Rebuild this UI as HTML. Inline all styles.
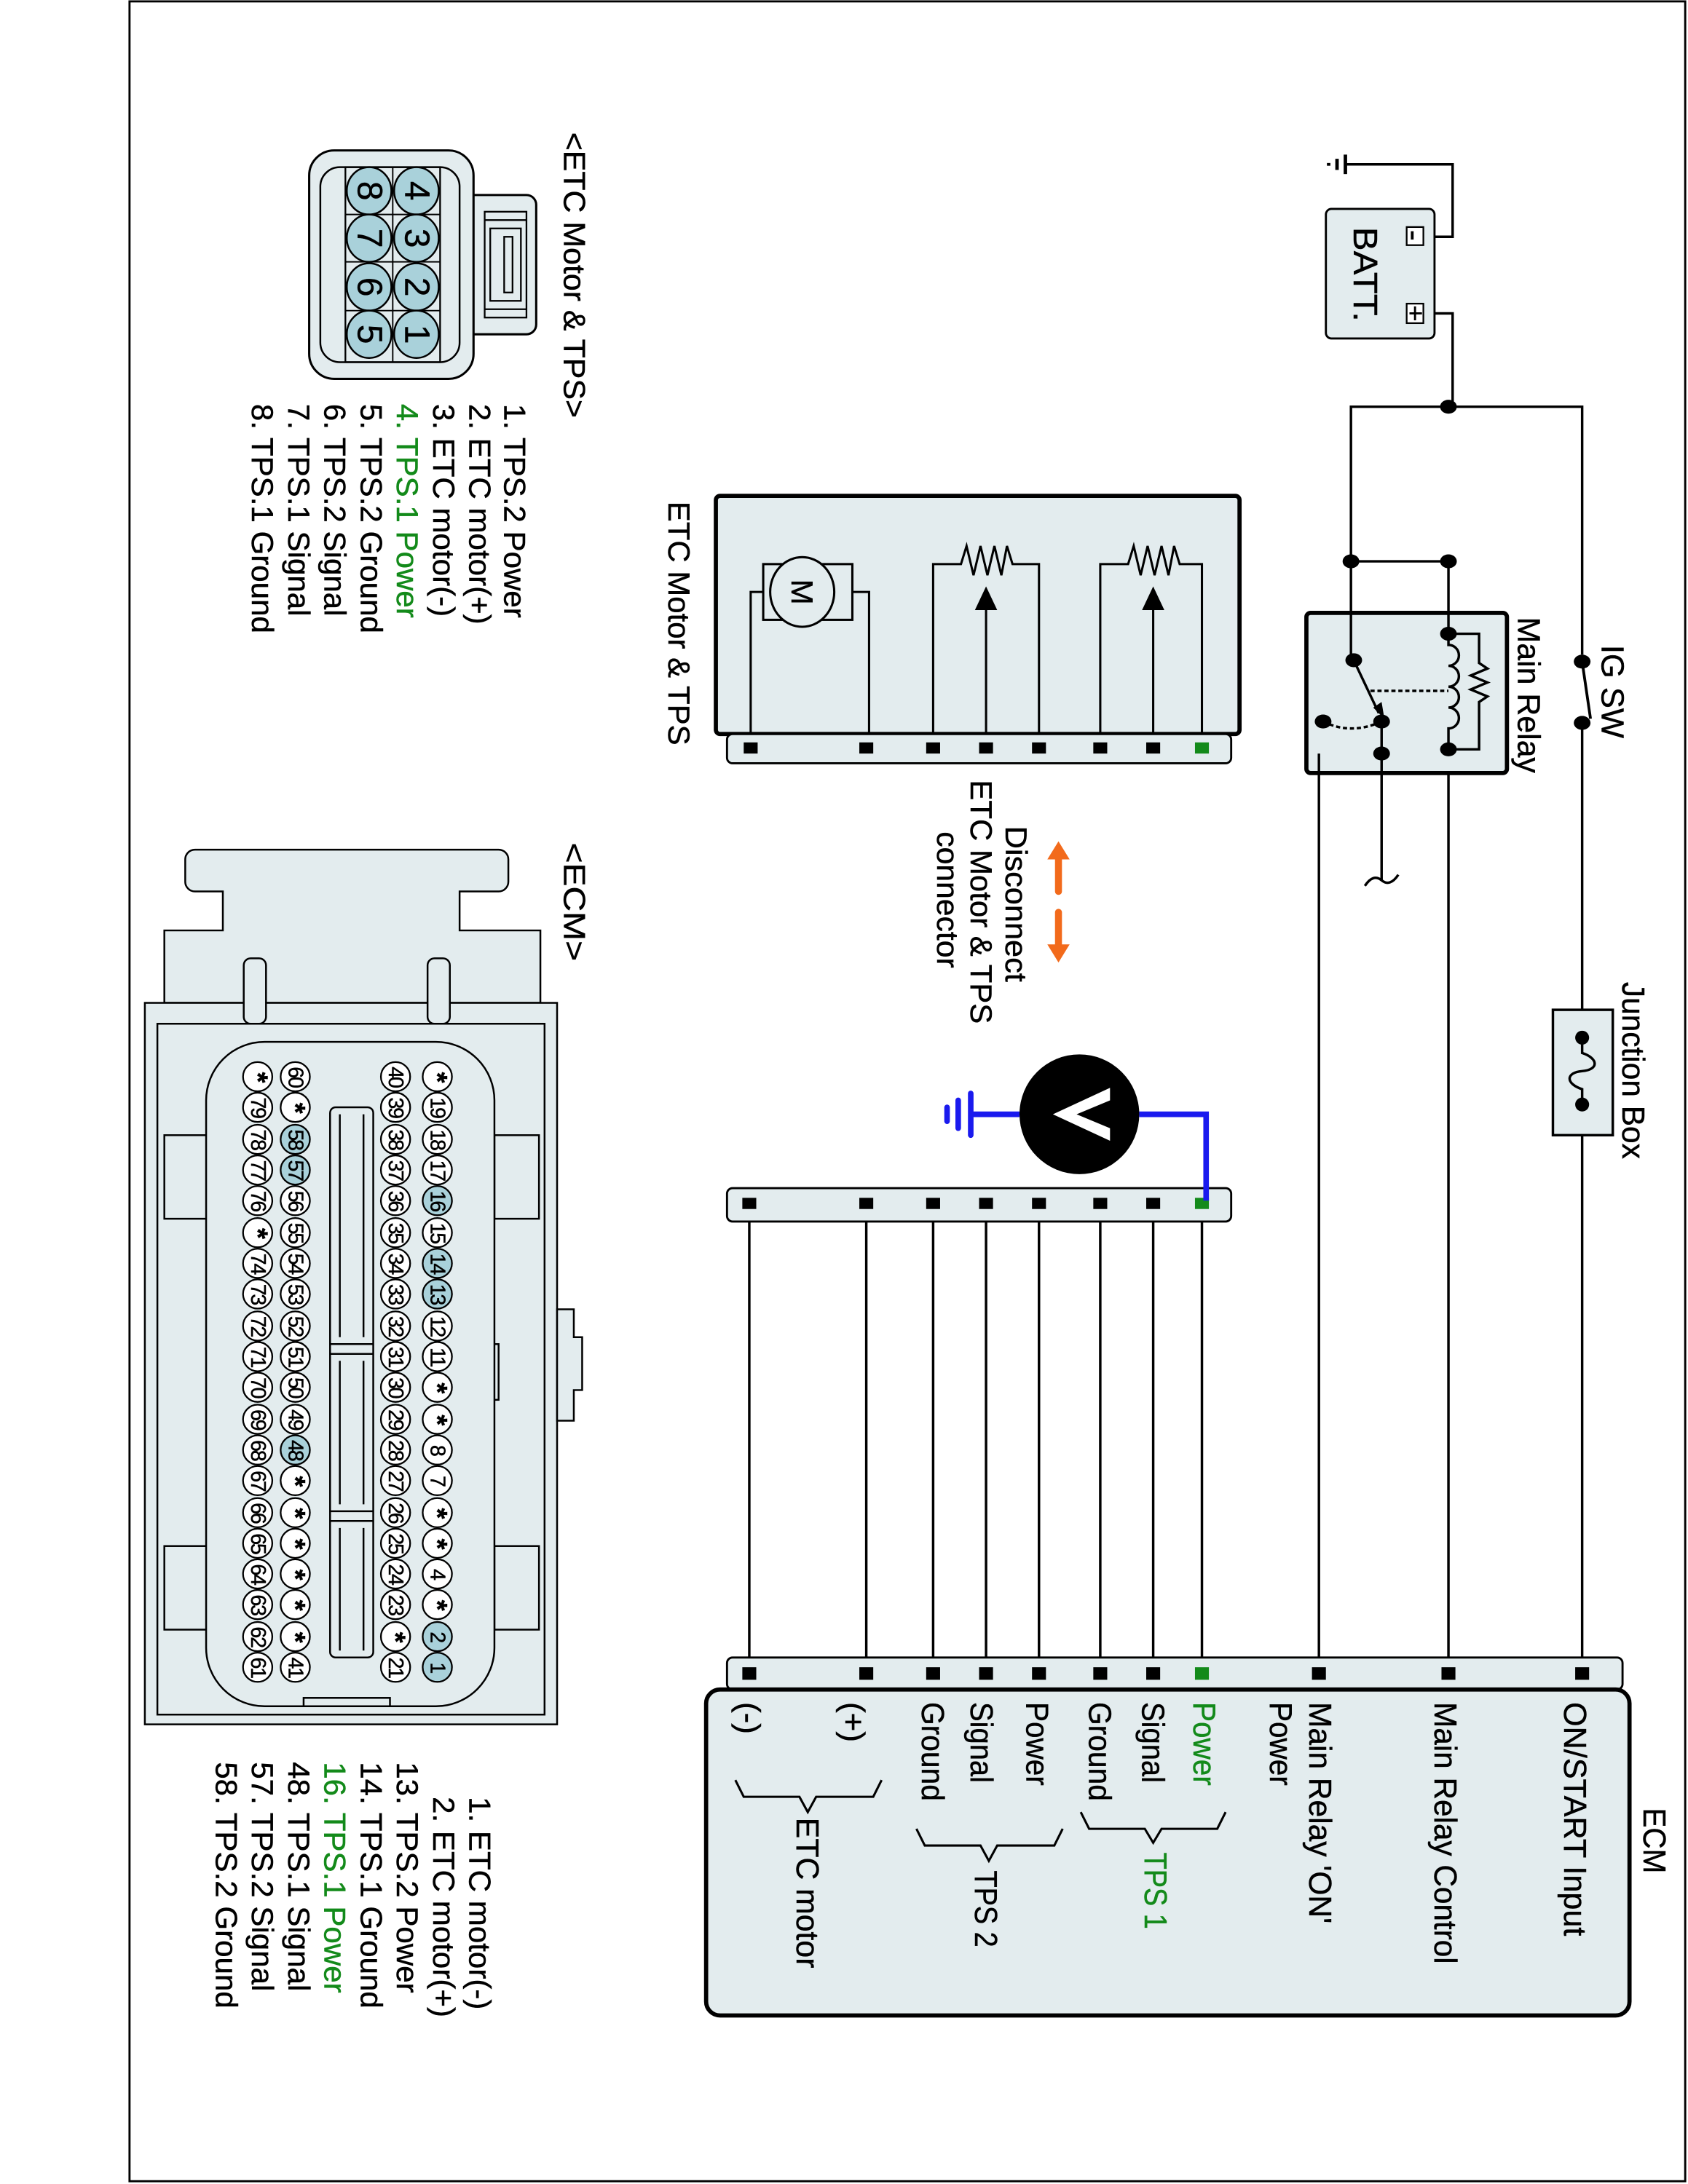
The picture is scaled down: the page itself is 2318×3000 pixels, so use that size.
<!DOCTYPE html>
<html><head><meta charset="utf-8"><style>html,body{margin:0;padding:0;background:#fff}svg{display:block}text{font-family:"Liberation Sans",Arial,sans-serif;stroke:#000;stroke-width:0.25}</style></head><body>
<svg width="2318" height="3000" viewBox="0 0 1212 1568" preserveAspectRatio="none" xmlns="http://www.w3.org/2000/svg">
<rect x="93" y="1" width="1117" height="1565" fill="#fff" stroke="#000" stroke-width="1.5"/>
<g stroke="#000" stroke-width="1.8" fill="none">
<path d="M1022,170 H1043 V118 H966"/>
<path d="M1022,225 H1043 V292"/>
<path d="M970,474 V292 H1136 V470"/>
<path d="M970,403 H1040 V455"/>
<path d="M1040,538 V1190"/>
<path d="M992,541 H947 V1190"/>
<path d="M992,518 V632"/>
<path d="M980,636 q6,-9 12,-4 t12,-4"/>
<path d="M1136,519 V725"/>
<path d="M1136,815 V1190"/>
<path d="M538,877V1190M622,877V1190M670,877V1190M708,877V1190M746,877V1190M790,877V1190M828,877V1190M863,877V1190"/>
</g>
<g stroke="#000" stroke-width="2.5"><line x1="966" y1="111" x2="966" y2="125"/><line x1="960" y1="114" x2="960" y2="122"/><line x1="954" y1="117" x2="954" y2="119"/></g>
<rect x="952" y="150" width="78" height="93" rx="4" fill="#e3ecee" stroke="#000" stroke-width="1.5"/>
<rect x="1010" y="163" width="12" height="13" fill="#fff" stroke="#000" stroke-width="1.2"/>
<rect x="1010" y="218" width="12" height="14" fill="#fff" stroke="#000" stroke-width="1.2"/>
<line x1="1014" y1="166" x2="1014" y2="172" stroke="#000" stroke-width="2"/>
<path d="M1012,225H1021M1016,220V230" stroke="#000" stroke-width="1.5"/>
<text transform="translate(972,163) rotate(90)" font-size="24" textLength="68" lengthAdjust="spacingAndGlyphs">BATT.</text>
<g fill="#000"><ellipse cx="1040" cy="292" rx="6" ry="5"/><ellipse cx="970" cy="403" rx="6" ry="5"/><ellipse cx="1040" cy="403" rx="6" ry="5"/></g>
<ellipse cx="1136" cy="475" rx="6" ry="5"/><ellipse cx="1136" cy="519" rx="6" ry="5"/>
<line x1="1136" y1="475" x2="1142" y2="516" stroke="#000" stroke-width="2"/>
<text transform="translate(1150,463) rotate(90)" font-size="23" textLength="67" lengthAdjust="spacingAndGlyphs">IG SW</text>
<rect x="938" y="440" width="144" height="115" rx="3" fill="#e3ecee" stroke="#000" stroke-width="3"/>
<g stroke="#000" stroke-width="1.8" fill="none">
<path d="M970,440V474"/><path d="M1040,440V455"/>
<path d="M992,518V555M947,541V555"/>
<path d="M1040,455H1062V476L1068,480L1056,485L1068,490L1056,495L1068,500L1062,504V538H1040"/>
<path d="M1040,455V463 a6,6 0 0 1 0,15 a6,6 0 0 1 0,15 a6,6 0 0 1 0,15 a6,6 0 0 1 0,15 V538"/>
<path d="M972,474L990,512"/>
<path d="M984,496H1040" stroke-dasharray="3,2"/>
<path d="M950,518 Q970,528 992,518" stroke-dasharray="3,2"/>
</g>
<path d="M986,508L994,516L992,504Z" fill="#000"/>
<g fill="#000"><ellipse cx="972" cy="474" rx="6" ry="5"/><ellipse cx="992" cy="518" rx="6" ry="5"/><ellipse cx="992" cy="541" rx="6" ry="5"/><ellipse cx="950" cy="518" rx="6" ry="5"/><ellipse cx="1040" cy="455" rx="6" ry="5"/><ellipse cx="1040" cy="538" rx="6" ry="5"/></g>
<text transform="translate(1090,443) rotate(90)" font-size="23" textLength="112" lengthAdjust="spacingAndGlyphs">Main Relay</text>
<rect x="1115" y="725" width="43" height="90" fill="#e3ecee" stroke="#000" stroke-width="1.8"/>
<ellipse cx="1136" cy="745" rx="5" ry="5"/><ellipse cx="1136" cy="793" rx="5" ry="5"/>
<path d="M1136,745 V756 C1148,760 1148,768 1136,769 C1124,770 1124,778 1136,782 V793" stroke="#000" stroke-width="1.8" fill="none"/>
<text transform="translate(1165,705) rotate(90)" font-size="23" textLength="127" lengthAdjust="spacingAndGlyphs">Junction Box</text>
<rect x="514" y="356" width="376" height="171" rx="3" fill="#e3ecee" stroke="#000" stroke-width="3"/>
<rect x="522" y="527" width="362" height="21" rx="4" fill="#e3ecee" stroke="#000" stroke-width="1.5"/>
<g stroke="#000" stroke-width="1.6" fill="none">
<path d="M539,527V425H548M624,527V425H612"/>
<rect x="548" y="405" width="64" height="40"/>
<path d="M670,527V405H690L694,392L699,413L704,392L709,413L714,392L719,413L723,392L727,405H746V527"/>
<path d="M790,527V405H810L814,392L819,413L824,392L829,413L834,392L839,413L843,392L847,405H863V527"/>
<path d="M708,527V436M828,527V436"/>
</g>
<ellipse cx="576" cy="425" rx="23" ry="25" fill="#e3ecee" stroke="#000" stroke-width="1.6"/>
<text transform="translate(576,425) rotate(90)" font-size="22" text-anchor="middle" dominant-baseline="central">M</text>
<path d="M700,438L716,438L708,421Z M820,438L836,438L828,421Z" fill="#000"/>
<g fill="#000"><rect x="534" y="533" width="10" height="8"/><rect x="617" y="533" width="10" height="8"/><rect x="665" y="533" width="10" height="8"/><rect x="703" y="533" width="10" height="8"/><rect x="741" y="533" width="10" height="8"/><rect x="785" y="533" width="10" height="8"/><rect x="823" y="533" width="10" height="8"/></g>
<rect x="858" y="533" width="10" height="8" fill="#138a1a"/>
<text transform="translate(480,360) rotate(90)" font-size="22" textLength="175" lengthAdjust="spacingAndGlyphs">ETC Motor &amp; TPS</text>
<g stroke="#f26a1b" stroke-width="5" stroke-linecap="round"><line x1="760" y1="615" x2="760" y2="640"/><line x1="760" y1="655" x2="760" y2="680"/></g>
<path d="M752,617L768,617L760,604Z M752,678L768,678L760,691Z" fill="#f26a1b"/>
<text transform="translate(722,593) rotate(90)" font-size="22" textLength="112" lengthAdjust="spacingAndGlyphs">Disconnect</text>
<text transform="translate(697,560) rotate(90)" font-size="22" textLength="175" lengthAdjust="spacingAndGlyphs">ETC Motor &amp; TPS</text>
<text transform="translate(673,597) rotate(90)" font-size="22" textLength="98" lengthAdjust="spacingAndGlyphs">connector</text>
<rect x="522" y="853" width="362" height="24" rx="4" fill="#e3ecee" stroke="#000" stroke-width="1.5"/>
<g fill="#000"><rect x="533" y="860" width="10" height="8"/><rect x="617" y="860" width="10" height="8"/><rect x="665" y="860" width="10" height="8"/><rect x="703" y="860" width="10" height="8"/><rect x="741" y="860" width="10" height="8"/><rect x="785" y="860" width="10" height="8"/><rect x="823" y="860" width="10" height="8"/></g>
<rect x="858" y="860" width="10" height="8" fill="#138a1a"/>
<path d="M818,800H866V862M732,800H697" stroke="#1a1aee" stroke-width="4" fill="none"/>
<g stroke="#1a1aee" stroke-width="4" stroke-linecap="round"><line x1="697" y1="785" x2="697" y2="815"/><line x1="688" y1="790" x2="688" y2="810"/><line x1="680" y1="795" x2="680" y2="805"/></g>
<circle cx="775" cy="800" r="43" fill="#000"/>
<path d="M756,800 L797,781 L797,790 L773,800 L797,810 L797,819 Z" fill="#fff"/>
<rect x="522" y="1190" width="643" height="23" rx="4" fill="#e3ecee" stroke="#000" stroke-width="1.5"/>
<rect x="507" y="1213" width="663" height="234" rx="10" fill="#e3ecee" stroke="#000" stroke-width="3"/>
<g fill="#000"><rect x="533" y="1197" width="10" height="9"/><rect x="617" y="1197" width="10" height="9"/><rect x="665" y="1197" width="10" height="9"/><rect x="703" y="1197" width="10" height="9"/><rect x="741" y="1197" width="10" height="9"/><rect x="785" y="1197" width="10" height="9"/><rect x="823" y="1197" width="10" height="9"/><rect x="942" y="1197" width="10" height="9"/><rect x="1035" y="1197" width="10" height="9"/><rect x="1131" y="1197" width="10" height="9"/></g>
<rect x="858" y="1197" width="10" height="9" fill="#138a1a"/>
<g font-size="23">
<text transform="translate(1180,1298) rotate(90)" textLength="47" lengthAdjust="spacingAndGlyphs">ECM</text>
<text transform="translate(1123,1222) rotate(90)" textLength="168" lengthAdjust="spacingAndGlyphs">ON/START Input</text>
<text transform="translate(1030,1222) rotate(90)" textLength="188" lengthAdjust="spacingAndGlyphs">Main Relay Control</text>
<text transform="translate(940,1222) rotate(90)" textLength="159" lengthAdjust="spacingAndGlyphs">Main Relay 'ON'</text>
<text transform="translate(912,1222) rotate(90)" textLength="60" lengthAdjust="spacingAndGlyphs">Power</text>
<text transform="translate(857,1222) rotate(90)" fill="#138a1a" style="stroke:#138a1a" textLength="60" lengthAdjust="spacingAndGlyphs">Power</text>
<text transform="translate(820,1222) rotate(90)" textLength="58" lengthAdjust="spacingAndGlyphs">Signal</text>
<text transform="translate(782,1222) rotate(90)" textLength="71" lengthAdjust="spacingAndGlyphs">Ground</text>
<text transform="translate(737,1222) rotate(90)" textLength="60" lengthAdjust="spacingAndGlyphs">Power</text>
<text transform="translate(697,1222) rotate(90)" textLength="58" lengthAdjust="spacingAndGlyphs">Signal</text>
<text transform="translate(662,1222) rotate(90)" textLength="71" lengthAdjust="spacingAndGlyphs">Ground</text>
<text transform="translate(605,1222) rotate(90)">(+)</text>
<text transform="translate(530,1222) rotate(90)">(-)</text>
<text transform="translate(822,1330) rotate(90)" fill="#138a1a" style="stroke:#138a1a" textLength="55" lengthAdjust="spacingAndGlyphs">TPS 1</text>
<text transform="translate(700,1343) rotate(90)" textLength="55" lengthAdjust="spacingAndGlyphs">TPS 2</text>
<text transform="translate(572,1305) rotate(90)" textLength="108" lengthAdjust="spacingAndGlyphs">ETC motor</text>
</g>
<g stroke="#000" stroke-width="1.6" fill="none">
<path d="M880,1301L874,1313L834,1313L828,1323L822,1313L782,1313L776,1301"/>
<path d="M763,1313L757,1325L716,1325L710,1336L704,1325L664,1325L658,1313"/>
<path d="M633,1278L627,1290L586,1290L580,1301L574,1290L534,1290L528,1278"/>
</g>
<text transform="translate(405,95) rotate(90)" font-size="22" textLength="205" lengthAdjust="spacingAndGlyphs">&lt;ETC Motor &amp; TPS&gt;</text>
<path d="M340,140 H378 a7,7 0 0 1 7,7 V233 a7,7 0 0 1 -7,7 H340" fill="#e3ecee" stroke="#000" stroke-width="1.6"/>
<rect x="222" y="108" width="118" height="164" rx="18" fill="#e3ecee" stroke="#000" stroke-width="1.6"/>
<rect x="230" y="120" width="100" height="140" rx="14" fill="#e3ecee" stroke="#000" stroke-width="1.3"/>
<g stroke="#000" stroke-width="1.2" fill="none"><rect x="348" y="152" width="30" height="76"/><rect x="352" y="164" width="22" height="52"/><line x1="348" y1="158" x2="378" y2="158"/><line x1="348" y1="222" x2="378" y2="222"/><rect x="362" y="170" width="6" height="40"/></g>
<rect x="248" y="120" width="68" height="140" fill="none" stroke="#000" stroke-width="1.2"/>
<g stroke="#000" stroke-width="1" fill="none"><path d="M282,120V260M248,154H316M248,188H316M248,223H316"/></g>
<g stroke="#000" stroke-width="1.3" fill="#a9d1da">
<ellipse cx="299" cy="137" rx="16" ry="17"/><ellipse cx="299" cy="171" rx="16" ry="17"/><ellipse cx="299" cy="206" rx="16" ry="17"/><ellipse cx="299" cy="240" rx="16" ry="17"/>
<ellipse cx="265" cy="137" rx="16" ry="17"/><ellipse cx="265" cy="171" rx="16" ry="17"/><ellipse cx="265" cy="206" rx="16" ry="17"/><ellipse cx="265" cy="240" rx="16" ry="17"/>
</g>
<g font-size="25" text-anchor="middle" dominant-baseline="central">
<text transform="translate(299,137) rotate(90)">4</text><text transform="translate(299,171) rotate(90)">3</text><text transform="translate(299,206) rotate(90)">2</text><text transform="translate(299,240) rotate(90)">1</text>
<text transform="translate(265,137) rotate(90)">8</text><text transform="translate(265,171) rotate(90)">7</text><text transform="translate(265,206) rotate(90)">6</text><text transform="translate(265,240) rotate(90)">5</text>
</g>
<g font-size="22">
<text transform="translate(362,290) rotate(90)">1. TPS.2 Power</text>
<text transform="translate(337,290) rotate(90)">2. ETC motor(+)</text>
<text transform="translate(311,290) rotate(90)">3. ETC motor(-)</text>
<text transform="translate(285,290) rotate(90)" fill="#138a1a" style="stroke:#138a1a">4. TPS.1 Power</text>
<text transform="translate(259,290) rotate(90)">5. TPS.2 Ground</text>
<text transform="translate(233,290) rotate(90)">6. TPS.2 Signal</text>
<text transform="translate(207,290) rotate(90)">7. TPS.1 Signal</text>
<text transform="translate(181,290) rotate(90)">8. TPS.1 Ground</text>
</g>
<text transform="translate(405,605) rotate(90)" font-size="22" textLength="85" lengthAdjust="spacingAndGlyphs">&lt;ECM&gt;</text>
<g fill="#e3ecee" stroke="#000" stroke-width="1.3">
<path d="M118,720 V668 H160 V640 H140 a7,7 0 0 1 -7,-7 V617 a7,7 0 0 1 7,-7 H358 a7,7 0 0 1 7,7 V633 a7,7 0 0 1 -7,7 H330 V668 H388 V720 Z"/>
<rect x="104" y="720" width="296" height="518"/>
<rect x="113" y="735" width="278" height="496" fill="none"/>
<rect x="175" y="688" width="16" height="47" rx="5"/><rect x="307" y="688" width="16" height="47" rx="5"/>
<path d="M400,940 H412 V960 H418 V998 H412 V1020 H400 Z"/>
<rect x="118" y="815" width="32" height="60" fill="none"/><rect x="355" y="815" width="32" height="60" fill="none"/>
<rect x="118" y="1110" width="32" height="60" fill="none"/><rect x="355" y="1110" width="32" height="60" fill="none"/>
<rect x="346" y="965" width="12" height="40" fill="none"/>
<rect x="148" y="748" width="207" height="477" rx="42"/>
<rect x="237" y="795" width="31" height="395" rx="4" fill="none"/>
<path d="M237,965H268M237,972H268M237,1085H268M237,1092H268M244,800V960M261,800V960M244,977V1080M261,977V1080M244,1097V1185M261,1097V1185" fill="none"/>
<rect x="218" y="1219" width="62" height="6" fill="none"/>
</g>
<g stroke="#000" stroke-width="1.2">
<g fill="#fff">
<circle cx="314" cy="773" r="10.5"/><circle cx="314" cy="795" r="10.5"/><circle cx="314" cy="818" r="10.5"/><circle cx="314" cy="840" r="10.5"/><circle cx="314" cy="862" r="10.5" fill="#a9d1da"/><circle cx="314" cy="885" r="10.5"/><circle cx="314" cy="907" r="10.5" fill="#a9d1da"/><circle cx="314" cy="929" r="10.5" fill="#a9d1da"/><circle cx="314" cy="952" r="10.5"/><circle cx="314" cy="974" r="10.5"/><circle cx="314" cy="996" r="10.5"/><circle cx="314" cy="1019" r="10.5"/><circle cx="314" cy="1041" r="10.5"/><circle cx="314" cy="1063" r="10.5"/><circle cx="314" cy="1086" r="10.5"/><circle cx="314" cy="1108" r="10.5"/><circle cx="314" cy="1130" r="10.5"/><circle cx="314" cy="1152" r="10.5"/><circle cx="314" cy="1175" r="10.5" fill="#a9d1da"/><circle cx="314" cy="1197" r="10.5" fill="#a9d1da"/>
<circle cx="284" cy="773" r="10.5"/><circle cx="284" cy="795" r="10.5"/><circle cx="284" cy="818" r="10.5"/><circle cx="284" cy="840" r="10.5"/><circle cx="284" cy="862" r="10.5"/><circle cx="284" cy="885" r="10.5"/><circle cx="284" cy="907" r="10.5"/><circle cx="284" cy="929" r="10.5"/><circle cx="284" cy="952" r="10.5"/><circle cx="284" cy="974" r="10.5"/><circle cx="284" cy="996" r="10.5"/><circle cx="284" cy="1019" r="10.5"/><circle cx="284" cy="1041" r="10.5"/><circle cx="284" cy="1063" r="10.5"/><circle cx="284" cy="1086" r="10.5"/><circle cx="284" cy="1108" r="10.5"/><circle cx="284" cy="1130" r="10.5"/><circle cx="284" cy="1152" r="10.5"/><circle cx="284" cy="1175" r="10.5"/><circle cx="284" cy="1197" r="10.5"/>
<circle cx="212" cy="773" r="10.5"/><circle cx="212" cy="795" r="10.5"/><circle cx="212" cy="818" r="10.5" fill="#a9d1da"/><circle cx="212" cy="840" r="10.5" fill="#a9d1da"/><circle cx="212" cy="862" r="10.5"/><circle cx="212" cy="885" r="10.5"/><circle cx="212" cy="907" r="10.5"/><circle cx="212" cy="929" r="10.5"/><circle cx="212" cy="952" r="10.5"/><circle cx="212" cy="974" r="10.5"/><circle cx="212" cy="996" r="10.5"/><circle cx="212" cy="1019" r="10.5"/><circle cx="212" cy="1041" r="10.5" fill="#a9d1da"/><circle cx="212" cy="1063" r="10.5"/><circle cx="212" cy="1086" r="10.5"/><circle cx="212" cy="1108" r="10.5"/><circle cx="212" cy="1130" r="10.5"/><circle cx="212" cy="1152" r="10.5"/><circle cx="212" cy="1175" r="10.5"/><circle cx="212" cy="1197" r="10.5"/>
<circle cx="185" cy="773" r="10.5"/><circle cx="185" cy="795" r="10.5"/><circle cx="185" cy="818" r="10.5"/><circle cx="185" cy="840" r="10.5"/><circle cx="185" cy="862" r="10.5"/><circle cx="185" cy="885" r="10.5"/><circle cx="185" cy="907" r="10.5"/><circle cx="185" cy="929" r="10.5"/><circle cx="185" cy="952" r="10.5"/><circle cx="185" cy="974" r="10.5"/><circle cx="185" cy="996" r="10.5"/><circle cx="185" cy="1019" r="10.5"/><circle cx="185" cy="1041" r="10.5"/><circle cx="185" cy="1063" r="10.5"/><circle cx="185" cy="1086" r="10.5"/><circle cx="185" cy="1108" r="10.5"/><circle cx="185" cy="1130" r="10.5"/><circle cx="185" cy="1152" r="10.5"/><circle cx="185" cy="1175" r="10.5"/><circle cx="185" cy="1197" r="10.5"/>
</g></g>
<g font-size="15" text-anchor="middle" dominant-baseline="central" letter-spacing="-1.2">
<text transform="translate(314,773) rotate(90)" font-size="20" font-weight="bold">*</text><text transform="translate(314,795) rotate(90)">19</text><text transform="translate(314,818) rotate(90)">18</text><text transform="translate(314,840) rotate(90)">17</text><text transform="translate(314,862) rotate(90)">16</text><text transform="translate(314,885) rotate(90)">15</text><text transform="translate(314,907) rotate(90)">14</text><text transform="translate(314,929) rotate(90)">13</text><text transform="translate(314,952) rotate(90)">12</text><text transform="translate(314,974) rotate(90)">11</text><text transform="translate(314,996) rotate(90)" font-size="20" font-weight="bold">*</text><text transform="translate(314,1019) rotate(90)" font-size="20" font-weight="bold">*</text><text transform="translate(314,1041) rotate(90)">8</text><text transform="translate(314,1063) rotate(90)">7</text><text transform="translate(314,1086) rotate(90)" font-size="20" font-weight="bold">*</text><text transform="translate(314,1108) rotate(90)" font-size="20" font-weight="bold">*</text><text transform="translate(314,1130) rotate(90)">4</text><text transform="translate(314,1152) rotate(90)" font-size="20" font-weight="bold">*</text><text transform="translate(314,1175) rotate(90)">2</text><text transform="translate(314,1197) rotate(90)">1</text>
<text transform="translate(284,773) rotate(90)">40</text><text transform="translate(284,795) rotate(90)">39</text><text transform="translate(284,818) rotate(90)">38</text><text transform="translate(284,840) rotate(90)">37</text><text transform="translate(284,862) rotate(90)">36</text><text transform="translate(284,885) rotate(90)">35</text><text transform="translate(284,907) rotate(90)">34</text><text transform="translate(284,929) rotate(90)">33</text><text transform="translate(284,952) rotate(90)">32</text><text transform="translate(284,974) rotate(90)">31</text><text transform="translate(284,996) rotate(90)">30</text><text transform="translate(284,1019) rotate(90)">29</text><text transform="translate(284,1041) rotate(90)">28</text><text transform="translate(284,1063) rotate(90)">27</text><text transform="translate(284,1086) rotate(90)">26</text><text transform="translate(284,1108) rotate(90)">25</text><text transform="translate(284,1130) rotate(90)">24</text><text transform="translate(284,1152) rotate(90)">23</text><text transform="translate(284,1175) rotate(90)" font-size="20" font-weight="bold">*</text><text transform="translate(284,1197) rotate(90)">21</text>
<text transform="translate(212,773) rotate(90)">60</text><text transform="translate(212,795) rotate(90)" font-size="20" font-weight="bold">*</text><text transform="translate(212,818) rotate(90)">58</text><text transform="translate(212,840) rotate(90)">57</text><text transform="translate(212,862) rotate(90)">56</text><text transform="translate(212,885) rotate(90)">55</text><text transform="translate(212,907) rotate(90)">54</text><text transform="translate(212,929) rotate(90)">53</text><text transform="translate(212,952) rotate(90)">52</text><text transform="translate(212,974) rotate(90)">51</text><text transform="translate(212,996) rotate(90)">50</text><text transform="translate(212,1019) rotate(90)">49</text><text transform="translate(212,1041) rotate(90)">48</text><text transform="translate(212,1063) rotate(90)" font-size="20" font-weight="bold">*</text><text transform="translate(212,1086) rotate(90)" font-size="20" font-weight="bold">*</text><text transform="translate(212,1108) rotate(90)" font-size="20" font-weight="bold">*</text><text transform="translate(212,1130) rotate(90)" font-size="20" font-weight="bold">*</text><text transform="translate(212,1152) rotate(90)" font-size="20" font-weight="bold">*</text><text transform="translate(212,1175) rotate(90)" font-size="20" font-weight="bold">*</text><text transform="translate(212,1197) rotate(90)">41</text>
<text transform="translate(185,773) rotate(90)" font-size="20" font-weight="bold">*</text><text transform="translate(185,795) rotate(90)">79</text><text transform="translate(185,818) rotate(90)">78</text><text transform="translate(185,840) rotate(90)">77</text><text transform="translate(185,862) rotate(90)">76</text><text transform="translate(185,885) rotate(90)" font-size="20" font-weight="bold">*</text><text transform="translate(185,907) rotate(90)">74</text><text transform="translate(185,929) rotate(90)">73</text><text transform="translate(185,952) rotate(90)">72</text><text transform="translate(185,974) rotate(90)">71</text><text transform="translate(185,996) rotate(90)">70</text><text transform="translate(185,1019) rotate(90)">69</text><text transform="translate(185,1041) rotate(90)">68</text><text transform="translate(185,1063) rotate(90)">67</text><text transform="translate(185,1086) rotate(90)">66</text><text transform="translate(185,1108) rotate(90)">65</text><text transform="translate(185,1130) rotate(90)">64</text><text transform="translate(185,1152) rotate(90)">63</text><text transform="translate(185,1175) rotate(90)">62</text><text transform="translate(185,1197) rotate(90)">61</text>
</g>
<g font-size="22">
<text transform="translate(337,1290) rotate(90)">1. ETC motor(-)</text>
<text transform="translate(311,1290) rotate(90)">2. ETC motor(+)</text>
<text transform="translate(285,1265) rotate(90)">13. TPS.2 Power</text>
<text transform="translate(259,1265) rotate(90)">14. TPS.1 Ground</text>
<text transform="translate(233,1265) rotate(90)" fill="#138a1a" style="stroke:#138a1a">16. TPS.1 Power</text>
<text transform="translate(207,1265) rotate(90)">48. TPS.1 Signal</text>
<text transform="translate(181,1265) rotate(90)">57. TPS.2 Signal</text>
<text transform="translate(155,1265) rotate(90)">58. TPS.2 Ground</text>
</g>
</svg>
</body></html>
